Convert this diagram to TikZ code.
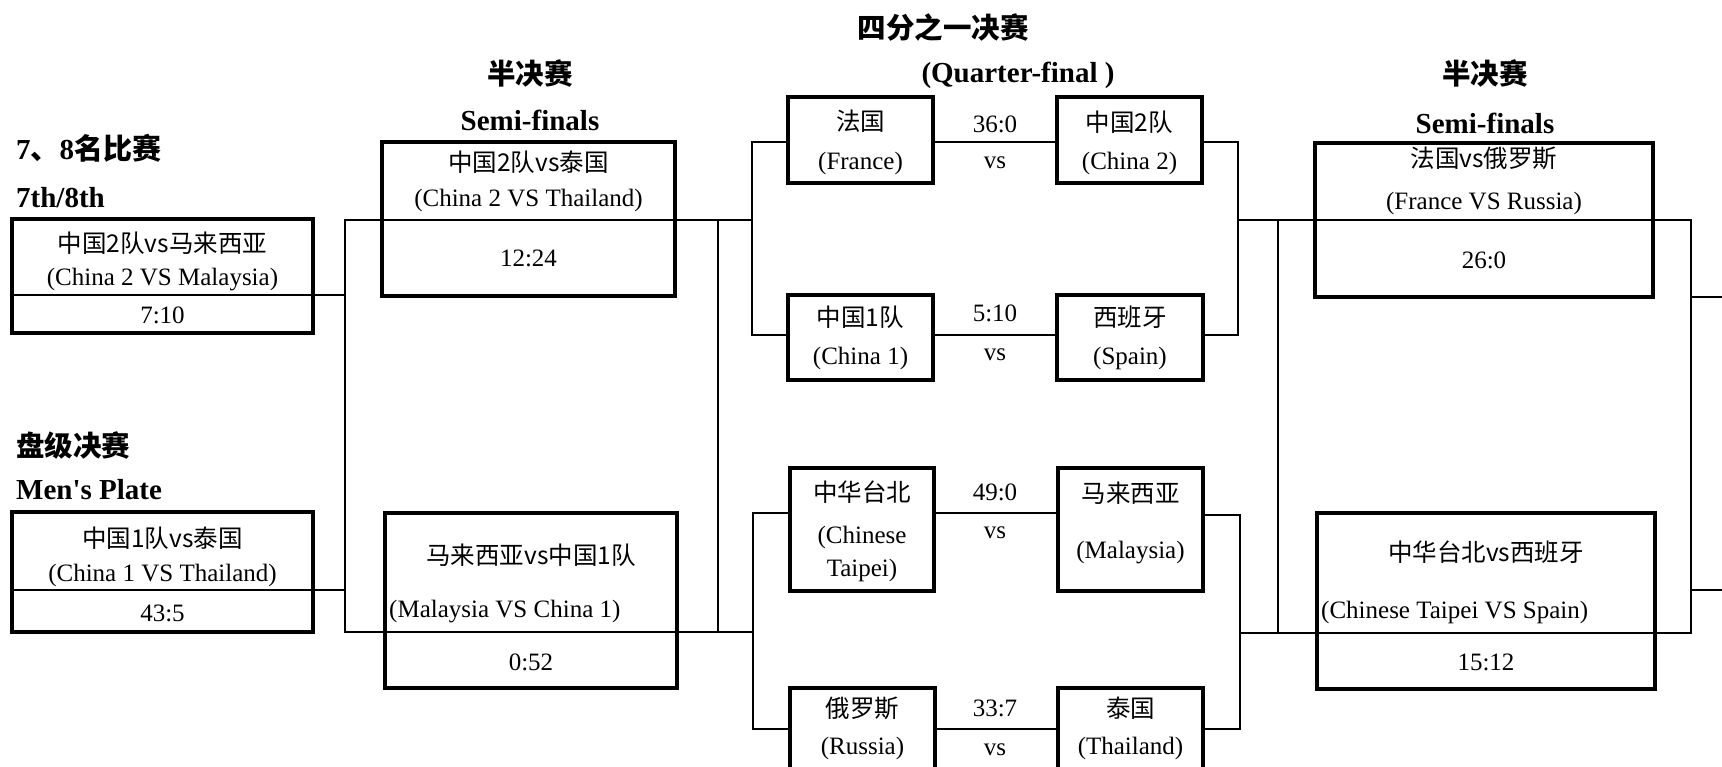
\documentclass[tikz,border=0pt]{standalone}
\usepackage{fontspec}
\setmainfont{Liberation Serif}
\newfontfamily\cjk{Noto Sans CJK SC}
\begin{document}
\begin{tikzpicture}[x=1pt,y=-1pt,
  box/.style={draw, line width=4.5pt, inner sep=0pt, outer sep=0pt},
  conn/.style={line width=2.2pt, line cap=rect},
  divline/.style={line width=2.6pt},
  txt/.style={inner sep=0pt, font=\fontsize{25}{30}\selectfont},
  ctxt/.style={inner sep=0pt, font=\fontsize{24.5}{30}\selectfont\cjk},
  ttl/.style={inner sep=0pt, font=\fontsize{29}{34}\selectfont\bfseries},
  cttl/.style={inner sep=0pt, font=\fontsize{28.5}{34}\selectfont\cjk\bfseries}]
\useasboundingbox (0,0) rectangle (1722,767);
\clip (0,0) rectangle (1722,767);

% ---------- titles ----------
\node[cttl] (tq1) at (943,28) {四分之一决赛};
\node[ttl] (tq2) at (1018,75) {(Quarter-final )};
\node[cttl] (ts1a) at (530,73) {半决赛};
\node[ttl] (ts1b) at (530,120) {Semi-finals};
\node[cttl] (ts2a) at (1485,73) {半决赛};
\node[ttl] (ts2b) at (1485,123) {Semi-finals};
\node[ttl, anchor=west] (t78h) at (16,148) {7{\cjk 、}8{\cjk 名比赛}};
\node[ttl, anchor=west] (t78e) at (16,198) {7th/8th};
\node[cttl, anchor=west] (tplh) at (16,445) {盘级决赛};
\node[ttl, anchor=west] (tple) at (16,490) {Men\textquotesingle s Plate};

% ---------- boxes ----------
\node[box, minimum width=301pt, minimum height=114pt] (b78) at (162.5,276) {};
\node[box, minimum width=301pt, minimum height=120pt] (bpl) at (162.5,572) {};
\node[box, minimum width=293pt, minimum height=154pt] (bs1) at (528.5,219) {};
\node[box, minimum width=292pt, minimum height=175pt] (bs2) at (531,600.5) {};
\node[box, minimum width=338pt, minimum height=154pt] (bs3) at (1484,220) {};
\node[box, minimum width=338pt, minimum height=176pt] (bs4) at (1486,601) {};

\node[box, minimum width=145pt, minimum height=86pt] (qFr) at (860.5,140) {};
\node[box, minimum width=145pt, minimum height=86pt] (qC2) at (1129.5,140) {};
\node[box, minimum width=145pt, minimum height=85pt] (qC1) at (860.5,337.5) {};
\node[box, minimum width=146pt, minimum height=85pt] (qSp) at (1130,337.5) {};
\node[box, minimum width=144pt, minimum height=123pt] (qTp) at (862,529.5) {};
\node[box, minimum width=145pt, minimum height=123pt] (qMy) at (1130.5,529.5) {};
\node[box, minimum width=145pt, minimum height=102pt] (qRu) at (862.5,739) {};
\node[box, minimum width=145pt, minimum height=102pt] (qTh) at (1130.5,739) {};

% ---------- box texts ----------
\node[ctxt] (x78a) at (162.5,243) {中国2队vs马来西亚};
\node[txt] (x78b) at (162.5,280) {(China 2 VS Malaysia)};
\node[txt] (x78c) at (162.5,315) {7:10};
\node[ctxt] (xpla) at (162.5,538) {中国1队vs泰国};
\node[txt] (xplb) at (162.5,575) {(China 1 VS Thailand)};
\node[txt] (xplc) at (162.5,613) {43:5};

\node[ctxt] (xs1a) at (528.5,162) {中国2队vs泰国};
\node[txt] (xs1b) at (528.5,200) {(China 2 VS Thailand)};
\node[txt] (xs1c) at (528.5,258) {12:24};
\node[ctxt] (xs2a) at (531,555) {马来西亚vs中国1队};
\node[txt, anchor=west] (xs2b) at (389,612) {(Malaysia VS China 1)};
\node[txt] (xs2c) at (531,662) {0:52};

\node[ctxt] (xs3a) at (1484,158) {法国vs俄罗斯};
\node[txt] (xs3b) at (1484,203) {(France VS Russia)};
\node[txt] (xs3c) at (1484,260) {26:0};
\node[ctxt] (xs4a) at (1486,552) {中华台北vs西班牙};
\node[txt, anchor=west] (xs4b) at (1321,612) {(Chinese Taipei VS Spain)};
\node[txt] (xs4c) at (1486,662) {15:12};

\node[ctxt] (xFra) at (860.5,121) {法国};
\node[txt] (xFrb) at (860.5,163) {(France)};
\node[ctxt] (xC2a) at (1129.5,122) {中国2队};
\node[txt] (xC2b) at (1129.5,163) {(China 2)};
\node[ctxt] (xC1a) at (860.5,317) {中国1队};
\node[txt] (xC1b) at (860.5,358) {(China 1)};
\node[ctxt] (xSpa) at (1130,317) {西班牙};
\node[txt] (xSpb) at (1130,358) {(Spain)};
\node[ctxt] (xTpa) at (862,492) {中华台北};
\node[txt] (xTpb) at (862,537) {(Chinese};
\node[txt] (xTpc) at (862,570) {Taipei)};
\node[ctxt] (xMya) at (1130.5,493) {马来西亚};
\node[txt] (xMyb) at (1130.5,553) {(Malaysia)};
\node[ctxt] (xRua) at (862.5,708) {俄罗斯};
\node[txt] (xRub) at (862.5,748) {(Russia)};
\node[ctxt] (xTha) at (1130.5,708) {泰国};
\node[txt] (xThb) at (1130.5,748) {(Thailand)};

% scores between quarter-final boxes
\node[txt] (sc1) at (995,124) {36:0};
\node[txt] (vs1) at (995,163) {vs};
\node[txt] (sc2) at (995,313) {5:10};
\node[txt] (vs2) at (995,355) {vs};
\node[txt] (sc3) at (995,492) {49:0};
\node[txt] (vs3) at (995,533) {vs};
\node[txt] (sc4) at (995,708) {33:7};
\node[txt] (vs4) at (995,750) {vs};

% ---------- junction coordinates ----------
\coordinate (J78) at (345,295);
\coordinate (JPl) at (345,590);
\coordinate (JL1t) at (345,220);
\coordinate (JL1b) at (345,632);
\coordinate (JM1t) at (718,220);
\coordinate (JM1b) at (718,632);
\coordinate (JQ1m) at (752,220);
\coordinate (JQ2m) at (753,632);
\coordinate (JQ1t) at (752,142);
\coordinate (JQ1b) at (752,335);
\coordinate (JQ2t) at (753,513);
\coordinate (JQ2b) at (753,729);
\coordinate (JR1t) at (1238,142);
\coordinate (JR1b) at (1238,335);
\coordinate (JR1m) at (1238,220);
\coordinate (JR2t) at (1240,515);
\coordinate (JR2b) at (1240,729);
\coordinate (JR2m) at (1240,633);
\coordinate (JS1t) at (1278,220);
\coordinate (JS1b) at (1278,633);
\coordinate (JF1) at (1691,220);
\coordinate (JF2) at (1691,633);
\coordinate (JO1) at (1691,297);
\coordinate (JO2) at (1691,590);
\coordinate (E1) at (1722,297);
\coordinate (E2) at (1722,590);

% ---------- dividers inside boxes ----------
\draw[divline] (b78.west |- J78) -- (b78.east |- J78);
\draw[divline] (bpl.west |- JPl) -- (bpl.east |- JPl);
\draw[conn] (bs1.west |- JL1t) -- (bs1.east |- JL1t);
\draw[conn] (bs2.west |- JL1b) -- (bs2.east |- JL1b);
\draw[conn] (bs3.west |- JR1m) -- (bs3.east |- JR1m);
\draw[conn] (bs4.west |- JR2m) -- (bs4.east |- JR2m);

% ---------- connectors ----------
\draw[conn] (b78.east |- J78) -- (J78);
\draw[conn] (bpl.east |- JPl) -- (JPl);
\draw[conn] (JL1t) -- (JL1b);
\draw[conn] (JL1t) -- (bs1.west |- JL1t);
\draw[conn] (JL1b) -- (bs2.west |- JL1b);

\draw[conn] (bs1.east |- JQ1m) -- (JQ1m);
\draw[conn] (bs2.east |- JQ2m) -- (JQ2m);
\draw[conn] (JM1t) -- (JM1b);

\draw[conn] (JQ1t) -- (JQ1b);
\draw[conn] (JQ1t) -- (qFr.west |- JQ1t);
\draw[conn] (JQ1b) -- (qC1.west |- JQ1b);
\draw[conn] (JQ2t) -- (JQ2b);
\draw[conn] (JQ2t) -- (qTp.west |- JQ2t);
\draw[conn] (JQ2b) -- (qRu.west |- JQ2b);

\draw[conn] (qFr.east |- JQ1t) -- (qC2.west |- JQ1t);
\draw[conn] (qC1.east |- JQ1b) -- (qSp.west |- JQ1b);
\draw[conn] (qTp.east |- JQ2t) -- (qMy.west |- JQ2t);
\draw[conn] (qRu.east |- JQ2b) -- (qTh.west |- JQ2b);

\draw[conn] (qC2.east |- JR1t) -- (JR1t) -- (JR1b) -- (qSp.east |- JR1b);
\draw[conn] (qMy.east |- JR2t) -- (JR2t) -- (JR2b) -- (qTh.east |- JR2b);
\draw[conn] (JR1m) -- (bs3.west |- JR1m);
\draw[conn] (JR2m) -- (bs4.west |- JR2m);
\draw[conn] (JS1t) -- (JS1b);
\draw[conn] (bs3.east |- JF1) -- (JF1);
\draw[conn] (bs4.east |- JF2) -- (JF2);
\draw[conn] (JF1) -- (JF2);
\draw[conn] (JO1) -- (E1);
\draw[conn] (JO2) -- (E2);
\end{tikzpicture}
\end{document}
